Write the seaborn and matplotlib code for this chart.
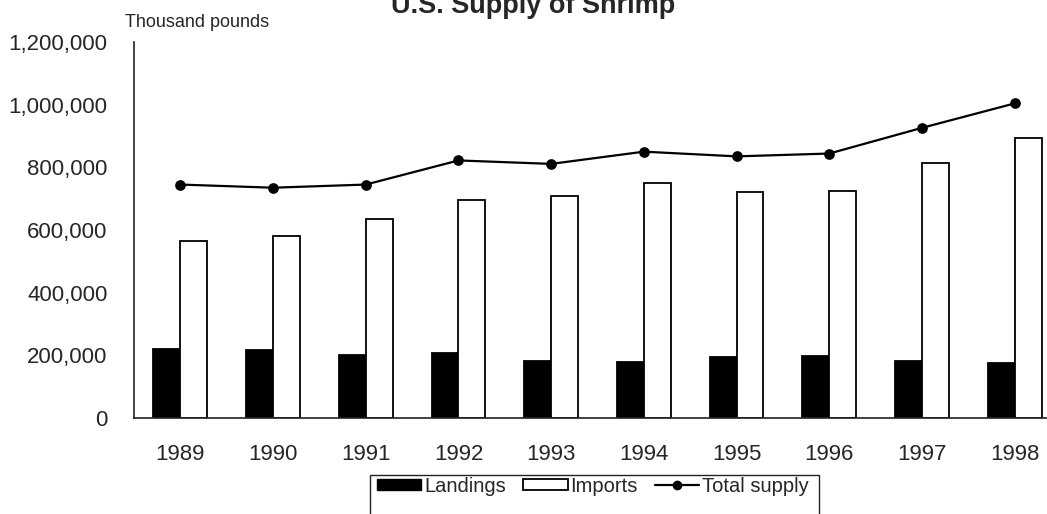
import numpy as np
import pandas as pd
import matplotlib
matplotlib.use("Agg")
import matplotlib.pyplot as plt
from matplotlib.patches import Patch, Rectangle
from matplotlib.lines import Line2D
from matplotlib.ticker import FuncFormatter
import seaborn as sns

# U.S. shrimp supply, thousand pounds
years = ["1989", "1990", "1991", "1992", "1993", "1994", "1995", "1996", "1997", "1998"]
landings = [219000, 216000, 200000, 208000, 183000, 178000, 194000, 199000, 182000, 176000]
imports = [565000, 581000, 634000, 697000, 709000, 751000, 721000, 723000, 813000, 895000]
total_supply = [745000, 735000, 745000, 822000, 811000, 850000, 835000, 844000, 926000, 1004000]

series_names = ["Landings", "Imports", "Total supply"]
y_ticks = [0, 200000, 400000, 600000, 800000, 1000000, 1200000]

sns.set_style("white")
plt.rcParams["font.family"] = ["Liberation Sans", "DejaVu Sans"]

W, H = 1047, 514
fig = plt.figure(figsize=(W / 100, H / 100), dpi=100)
# plot area (pixel geometry converted to figure fractions)
x0, x1, y_bot, y_top = 134, 1061, 418, 42
ax = fig.add_axes([x0 / W, (H - y_bot) / H, (x1 - x0) / W, (y_bot - y_top) / H])

bars = pd.DataFrame({
    "year": years * 2,
    "value": landings + imports,
    "series": [series_names[0]] * len(years) + [series_names[1]] * len(years),
})
sns.barplot(data=bars, x="year", y="value", hue="series",
            palette={series_names[0]: "black", series_names[1]: "white"},
            edgecolor="black", linewidth=1.3, width=0.58, legend=False, ax=ax)

sns.pointplot(x=years, y=total_supply, color="black", markers="o",
              linestyles="-", markersize=6.5, linewidth=1.6, ax=ax)

ax.set_xlim(-0.5, len(years) - 0.5)
ax.set_ylim(0, 1200000)
ax.set_xlabel("")
ax.set_ylabel("")

# category boundaries carry the tick marks, centres carry the year labels
ax.set_xticks(np.arange(-0.5, len(years), 1.0))
ax.set_xticklabels([""] * len(ax.get_xticks()))
ax.set_xticks(np.arange(len(years)), minor=True)
ax.set_xticklabels(years, minor=True)
ax.tick_params(axis="x", which="major", direction="inout", length=10, width=1, color="#333333")
ax.tick_params(axis="x", which="minor", length=0, pad=19, labelsize=16)

ax.set_yticks(y_ticks)
ax.yaxis.set_major_formatter(FuncFormatter(lambda v, p: f"{int(v):,}"))
ax.tick_params(axis="y", direction="inout", length=8.6, width=1, color="#333333",
               pad=14.6, labelsize=16)

for side in ["top", "right"]:
    ax.spines[side].set_visible(False)
for side in ["left", "bottom"]:
    ax.spines[side].set_color("#222222")
    ax.spines[side].set_linewidth(1.2)

fig.text(533 / W, 1 - 13 / H, "U.S. Supply of Shrimp", ha="center", va="baseline",
         fontsize=19.5, fontweight="bold")
fig.text(125 / W, 1 - 26.7 / H, "Thousand pounds", ha="left", va="baseline", fontsize=13)

handles = [
    Patch(facecolor="black", edgecolor="black"),
    Patch(facecolor="white", edgecolor="black", linewidth=1.3),
    Line2D([], [], color="black", marker="o", markersize=6, linewidth=1.6),
]
fig.legend(handles, series_names, loc="center left",
           bbox_to_anchor=(377 / W, 1 - 486 / H), ncol=3, frameon=False,
           fontsize=14.5, handlelength=2.2, handleheight=0.45,
           handletextpad=0.15, columnspacing=0.85, borderaxespad=0, borderpad=0)
fig.patches.append(Rectangle((370 / W, -0.05), (819 - 370) / W, (1 - 474.7 / H) + 0.05,
                             transform=fig.transFigure, fill=False,
                             edgecolor="#222222", linewidth=1.0))

fig.savefig("out.png", dpi=100)
